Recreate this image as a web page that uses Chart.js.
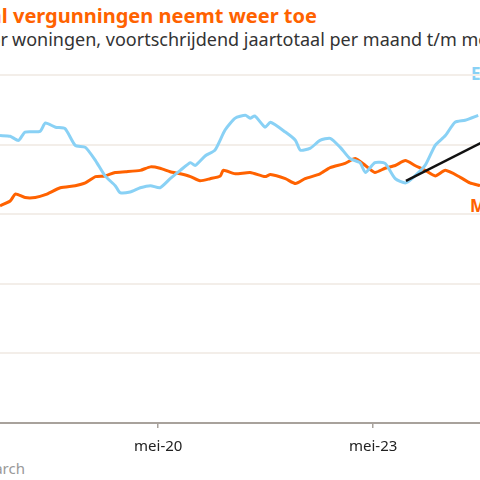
<!DOCTYPE html>
<html>
<head>
<meta charset="utf-8">
<script src="https://cdn.jsdelivr.net/npm/chart.js@4"></script>
<style>
  body { margin: 0; width: 480px; height: 480px; overflow: hidden; position: relative; background: #fff; font-family: "Noto Sans", sans-serif; }
  .t { position: absolute; white-space: nowrap; }
  #chartBox { position: absolute; left: 0; top: 0; width: 480px; height: 480px; }
</style>
</head>
<body>
<div class="t" style="right:163px; top:2px; font-size:20px; font-weight:bold; color:#ff6200;">Aantal vergunningen neemt weer toe</div>
<div class="t" style="right:472px; top:27px; font-size:18px; color:#333;">Aantal vergunningen voor</div>
<div class="t" style="left:12px; top:27px; font-size:18px; color:#333;">woningen, voortschrijdend jaartotaal per maand t/m mei-24</div>
<div class="t" style="left:471px; top:62px; font-size:17px; font-weight:bold; color:#89d1f5;">Eengezins</div>
<div class="t" style="left:470px; top:194px; font-size:17px; font-weight:bold; color:#ff6200;">Meergezins</div>
<div class="t" style="right:455px; top:458px; font-size:15px; color:#999;">Bron: CBS, ING Research</div>
<div id="chartBox"><canvas id="c"></canvas></div>
<script>
// month offsets relative to mei-20
const blueMonths = [-26.5,-24.8,-23.4,-22.3,-19.8,-18.9,-17.2,-15.6,-13.9,-12.2,-10.5,-8.9,-7.2,-6.4,-4.7,-3.0,-1.3,0.3,2.0,3.7,5.4,6.2,7.9,9.5,11.2,12.9,14.6,15.4,16.2,17.9,18.8,21.3,23.0,23.8,25.5,27.1,28.8,30.5,32.1,33.8,34.7,36.3,38.0,39.7,41.4,42.5,44.7,46.4,48.1,49.7,51.4,53.6];
const blueValues = [41.3,41.2,40.6,41.8,41.9,43.1,42.5,42.3,39.9,39.6,37.7,35.5,34.1,33.1,33.2,33.8,34.1,33.8,35.1,36.3,37.4,37.0,38.4,39.2,42.1,43.8,44.2,43.8,44.1,42.5,43.2,41.8,40.6,39.2,39.5,40.6,40.9,39.6,38.0,37.4,36.0,37.4,37.3,35.1,34.5,35.1,37.0,39.9,41.3,43.2,43.5,44.2];
const orangeMonths = [-26.5,-24.8,-23.9,-22.3,-20.6,-18.9,-16.4,-13.9,-12.2,-10.5,-8.9,-7.2,-5.5,-3.0,-1.3,0.3,2.0,3.7,5.4,7.0,8.7,10.4,10.9,12.9,15.4,17.9,18.8,21.3,23.0,24.6,27.1,28.8,31.3,33.0,34.7,36.3,38.0,39.7,41.4,43.0,44.7,46.4,48.1,50.6,52.2,53.9];
const orangeValues = [31.2,31.9,32.9,32.4,32.4,32.8,33.8,34.1,34.5,35.4,35.5,36.0,36.1,36.3,36.8,36.6,36.1,35.8,35.4,34.8,35.1,35.5,36.3,35.8,36.0,35.4,35.7,35.1,34.4,35.1,35.8,36.7,37.3,38.0,37.0,36.0,36.6,37.0,37.7,37.0,36.3,35.5,36.3,35.3,34.5,34.1];
const trendMonths = [41.5, 60];
const trendValues = [34.8, 42.8];
const tickMonths = [0, 36];
const tickLabels = ['mei-20', 'mei-23'];

const pts = (xs, ys) => xs.map((x, i) => ({ x: x, y: ys[i] }));

new Chart(document.getElementById('c'), {
  type: 'line',
  data: {
    datasets: [
      { data: pts(trendMonths, trendValues), borderColor: '#111', borderWidth: 2.5, pointRadius: 0 },
      { data: pts(blueMonths, blueValues), borderColor: '#89d1f5', borderWidth: 3, pointRadius: 0, tension: 0.2 },
      { data: pts(orangeMonths, orangeValues), borderColor: '#ff6200', borderWidth: 3, pointRadius: 0, tension: 0.2 }
    ]
  },
  options: {
    responsive: true,
    maintainAspectRatio: false,
    animation: false,
    layout: { padding: { top: 75, bottom: 14, left: 0, right: 0 } },
    plugins: { legend: { display: false }, tooltip: { enabled: false } },
    scales: {
      x: {
        type: 'linear', min: -26.5, max: 53.9,
        afterBuildTicks: (axis) => { axis.ticks = tickMonths.map(v => ({ value: v })); },
        ticks: {
          autoSkip: false, maxRotation: 0, padding: 10,
          font: { family: 'Noto Sans', size: 15 }, color: '#222',
          callback: (v) => tickLabels[tickMonths.indexOf(v)]
        },
        grid: { drawOnChartArea: false, drawTicks: true, tickLength: 5, color: '#a8a29c', lineWidth: 1.5 },
        border: { color: '#a8a29c', width: 2 }
      },
      y: {
        min: 0, max: 50,
        afterFit: (axis) => { axis.width = 0; },
        ticks: { display: false, stepSize: 10 },
        grid: { color: '#f3eee9', lineWidth: 2, drawTicks: false },
        border: { display: false }
      }
    }
  }
});
</script>
</body>
</html>
